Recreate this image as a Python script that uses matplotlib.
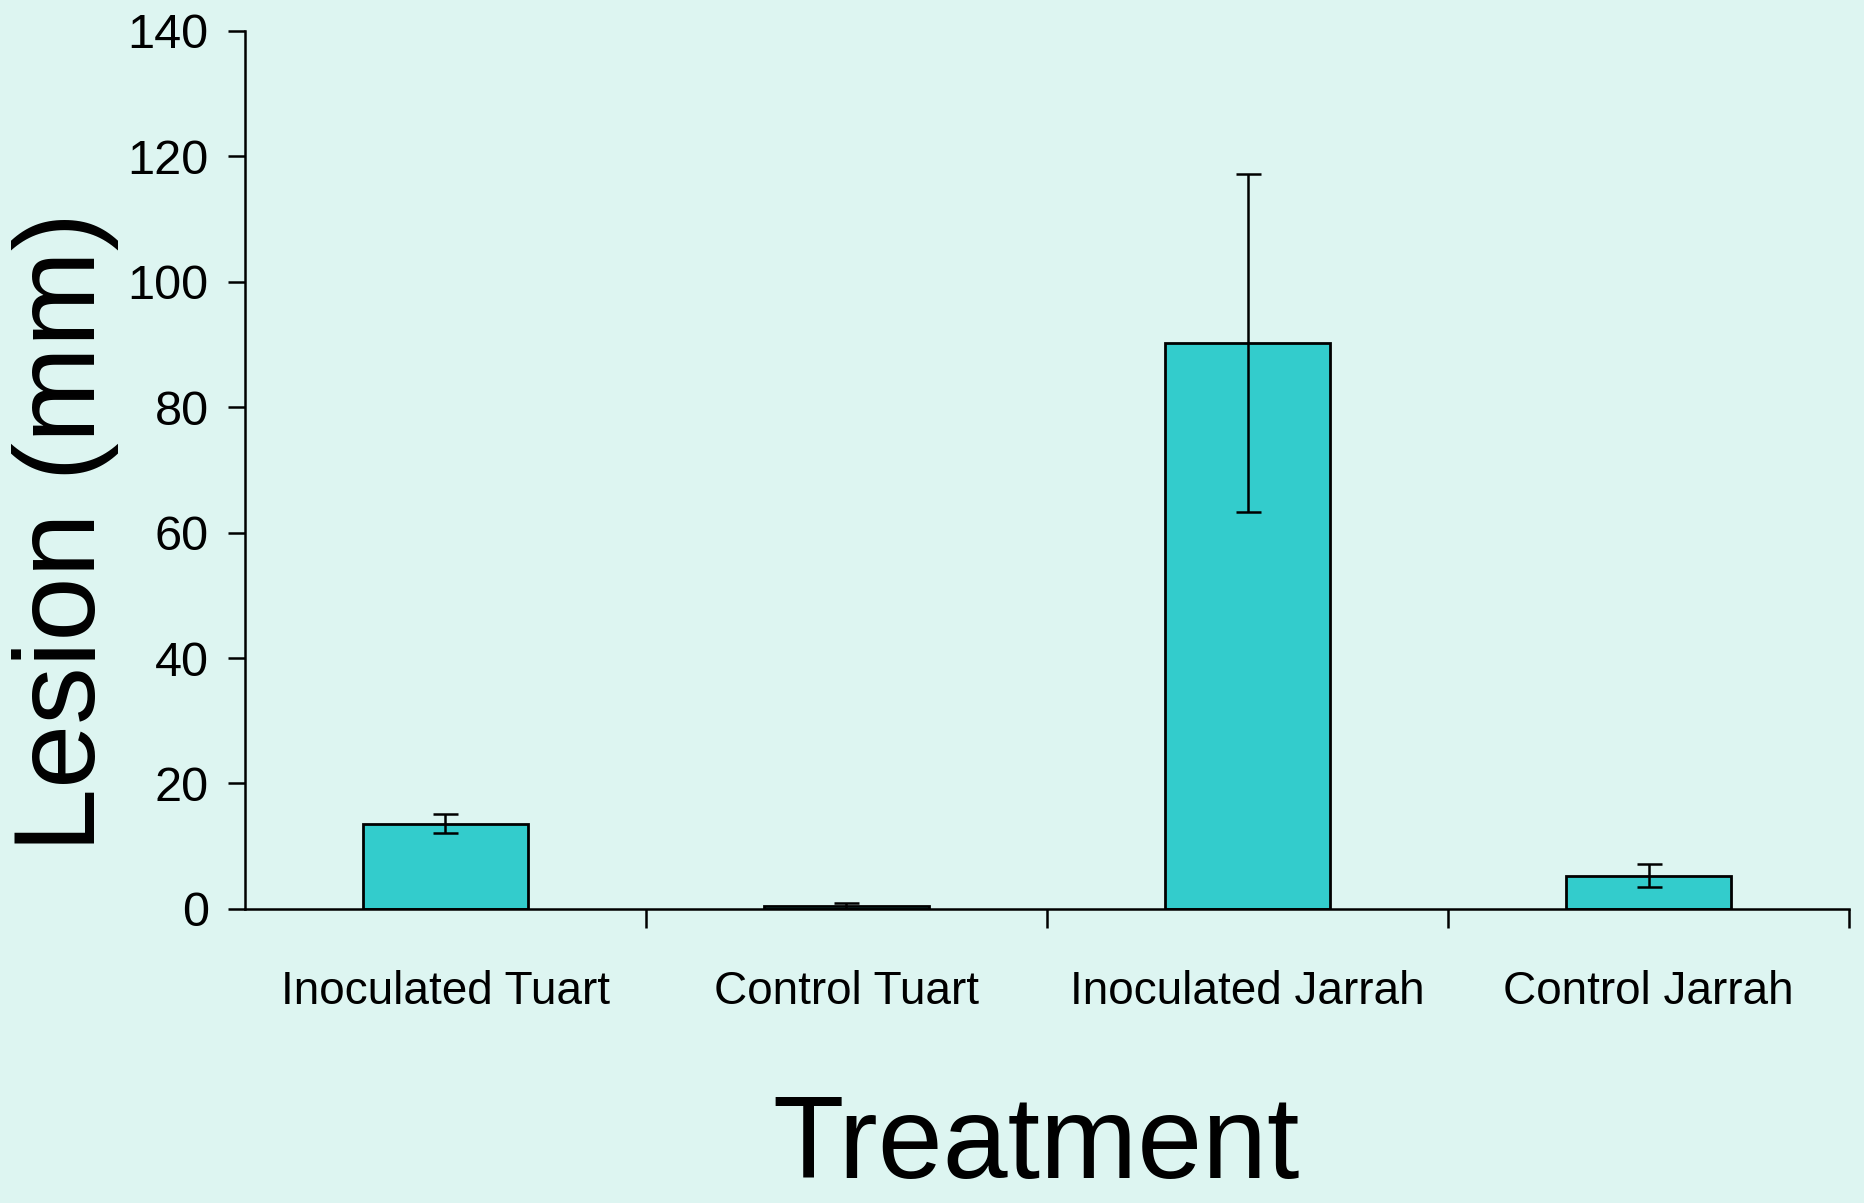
import numpy as np
import matplotlib.pyplot as plt

# values
treatments = ["Inoculated Tuart", "Control Tuart", "Inoculated Jarrah", "Control Jarrah"]
lesion_mm = [13.6, 0.5, 90.2, 5.3]
lesion_err = [1.5, 0.5, 27.0, 1.8]
y_ticks = [0, 20, 40, 60, 80, 100, 120, 140]

BG = "#ddf5f1"
BAR = "#33cccc"

plt.rcParams['font.family'] = ['Liberation Sans', 'DejaVu Sans']

fig = plt.figure(figsize=(18.64, 12.03), dpi=100, facecolor=BG)
ax = fig.add_axes([0.1314, 0.2444, 0.8606, 0.7302])
ax.set_facecolor(BG)

x = np.arange(len(treatments))
ax.bar(x, lesion_mm, width=0.41, color=BAR, edgecolor="black", linewidth=2.0, zorder=2)
ax.errorbar(x, lesion_mm, yerr=lesion_err, fmt="none", ecolor="black",
            elinewidth=1.8, capsize=9, capthick=1.8, zorder=3)

ax.set_xlim(-0.5, len(treatments) - 0.5)
ax.set_ylim(0, 140)
ax.set_yticks(y_ticks)
ax.tick_params(axis="y", labelsize=35, length=12, width=1.8, direction="out", pad=14)

# category labels centred, tick marks on the boundaries
ax.set_xticks(x)
ax.set_xticklabels(treatments, fontsize=33)
ax.tick_params(axis="x", which="major", length=0, pad=44)
ax.set_xticks(np.arange(0.5, len(treatments), 1.0), minor=True)
ax.tick_params(axis="x", which="minor", length=14, width=1.8, direction="out")

for side in ("top", "right"):
    ax.spines[side].set_visible(False)
for side in ("left", "bottom"):
    ax.spines[side].set_linewidth(1.8)

fig.text(0.035, 0.558, "Lesion (mm)", rotation=90, fontsize=83, ha="center", va="center")
fig.text(0.556, 0.001, "Treatment", fontsize=84, ha="center", va="bottom")

fig.savefig("out.png", dpi=100, facecolor=BG)
